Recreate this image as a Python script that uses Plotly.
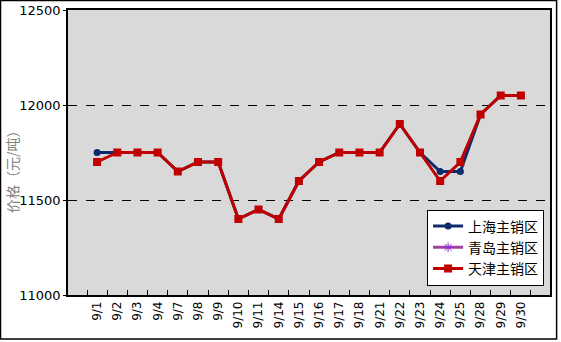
import plotly.graph_objects as go

dates = ["9/1","9/2","9/3","9/4","9/7","9/8","9/9","9/10","9/11","9/14","9/15",
         "9/16","9/17","9/18","9/21","9/22","9/23","9/24","9/25","9/28","9/29","9/30"]
shanghai = [11750,11750,11750,11750,11650,11700,11700,11400,11450,11400,11600,
            11700,11750,11750,11750,11900,11750,11650,11650,11950,12050,12050]
qingdao = [None]*len(dates)
tianjin = [11700,11750,11750,11750,11650,11700,11700,11400,11450,11400,11600,
           11700,11750,11750,11750,11900,11750,11600,11700,11950,12050,12050]
yticks = [11000, 11500, 12000, 12500]
yticktext = ["11000", "11500", "12000", "12500"]

font = "DejaVu Sans, Noto Sans CJK SC, sans-serif"
fig = go.Figure()
fig.add_trace(go.Scatter(x=dates, y=shanghai, name="上海主销区", mode="lines+markers",
                         line=dict(color="#0D2A6B", width=3),
                         marker=dict(symbol="circle", size=7, color="#0D2A6B")))
fig.add_trace(go.Scatter(x=dates, y=qingdao, name="青岛主销区", mode="lines+markers",
                         line=dict(color="#A040A0", width=3),
                         marker=dict(symbol="asterisk", size=8, color="#A040A0",
                                     line=dict(color="#8A2BE2", width=1))))
fig.add_trace(go.Scatter(x=dates, y=tianjin, name="天津主销区", mode="lines+markers",
                         line=dict(color="#C00000", width=3),
                         marker=dict(symbol="square", size=8, color="#C00000")))

fig.update_layout(
    width=561, height=342,
    margin=dict(l=68, r=11, t=10, b=47, autoexpand=False),
    paper_bgcolor="white", plot_bgcolor="#D9D9D9",
    font=dict(family=font, size=12, color="black"),
    showlegend=True,
    legend=dict(x=0.745, y=0.3, xanchor="left", yanchor="top",
                bgcolor="white", bordercolor="black", borderwidth=1,
                font=dict(size=14, family="Noto Sans CJK SC"), tracegroupgap=0, itemwidth=30),
    shapes=[dict(type="rect", xref="paper", yref="paper",
                 x0=-0.140, x1=1.0137, y0=-0.154, y1=1.0333,
                 line=dict(color="black", width=1.5), layer="below")],
    annotations=[dict(text="价格（元/吨）", xref="paper", yref="paper",
                      x=-0.116, y=0.446, xanchor="center", yanchor="middle",
                      textangle=-90, showarrow=False,
                      font=dict(size=14, color="#808080", family="Noto Sans CJK SC"))],
)
fig.update_xaxes(type="category", showline=True, linecolor="black", linewidth=1.5,
                 mirror=True, ticks="inside", ticklen=5, tickcolor="black",
                 tickson="boundaries", tickangle=-90, tickfont=dict(size=12),
                 showgrid=False, automargin=False)
fig.update_yaxes(range=[11000, 12500], tickvals=yticks, ticktext=yticktext,
                 showline=True, linecolor="black",
                 linewidth=1.5, mirror=True, ticks="outside", ticklen=3, tickcolor="black",
                 showgrid=True, gridcolor="black", griddash="dash", gridwidth=1,
                 tickfont=dict(size=13), zeroline=False, automargin=False)
fig.write_html("out.html")
